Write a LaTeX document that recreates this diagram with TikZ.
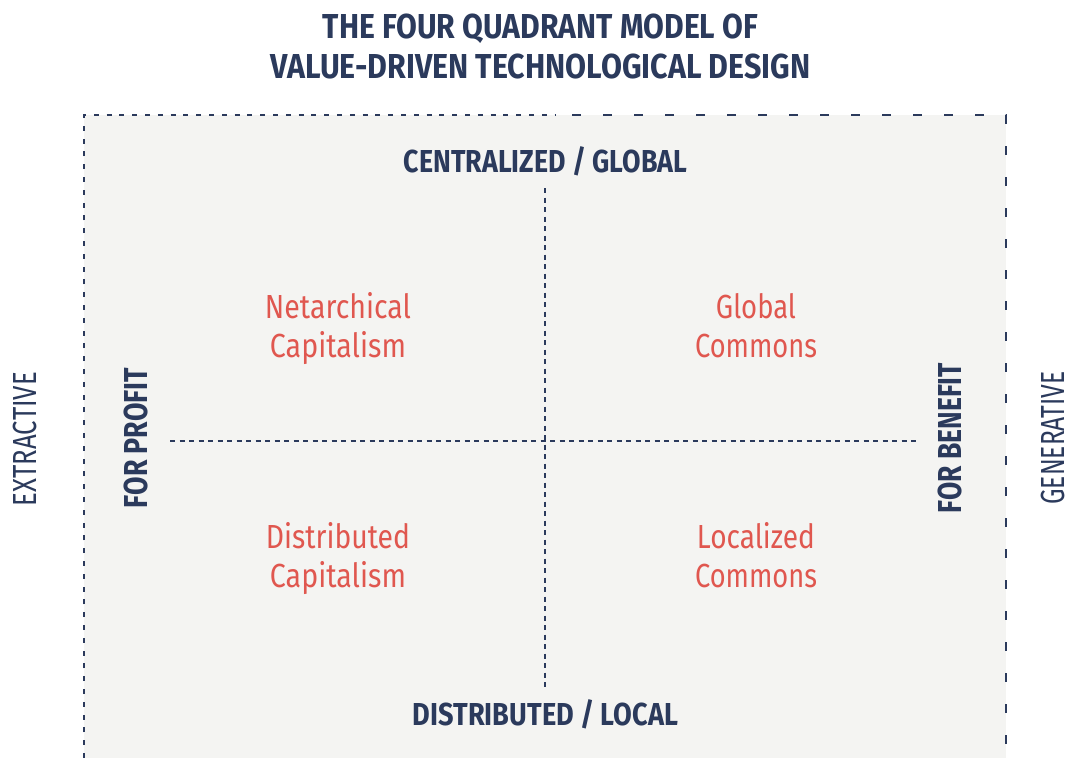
\documentclass[tikz,border=0pt]{standalone}
\usepackage{fontspec}
\setmainfont{Fira Sans}
\usepackage{graphicx}
\definecolor{navy}{HTML}{2B3A5C}
\definecolor{redq}{HTML}{E0574F}
\definecolor{panel}{HTML}{F4F4F2}
\newcommand{\fitto}[3]{\resizebox{#1}{#2}{\raisebox{0pt}[\fontcharht\font`H][0pt]{#3}}}
\begin{document}
\begin{tikzpicture}[x=1pt,y=-1pt,
  titlestyle/.style={text=navy, inner sep=0pt, align=center, font=\fontsize{10pt}{40pt}\selectfont\bfseries},
  axislabel/.style={text=navy, inner sep=0pt, font=\bfseries},
  sidebold/.style={text=navy, inner sep=0pt, rotate=90, font=\bfseries},
  sidelight/.style={text=navy, inner sep=0pt, rotate=90, font=\normalfont},
  quad/.style={text=redq, inner sep=0pt, align=center, font=\fontsize{10pt}{39pt}\selectfont},
  divider/.style={draw=navy, line width=1.3pt, dash pattern=on 5pt off 4.5pt},
  finedash/.style={draw=navy, line width=1.9pt, dash pattern=on 5pt off 7.8pt},
  coarsedash/.style={draw=navy, line width=2pt, dash pattern=on 9pt off 22pt, dash phase=15pt}]
\useasboundingbox (0,0) rectangle (1077,758);
% panel
\fill[panel] (84,115) rectangle (1006,758);
\coordinate (bl) at (84,758);
\coordinate (tl) at (84,115);
\coordinate (tm) at (556,115);
\coordinate (tr) at (1006,115);
\coordinate (br) at (1006,758);
\draw[finedash] (bl) -- (tl) -- (tm);
\draw[coarsedash] (tm) -- (tr) -- (br);
% dividers
\coordinate (hl) at (170,441);
\coordinate (hr) at (920,441);
\coordinate (vt) at (545,188);
\coordinate (vb) at (545,688);
\draw[divider] (hl) -- (hr);
\draw[divider] (vt) -- (vb);
% title
\node[titlestyle] (title) at (540.5,46) {\fitto{435pt}{24pt}{THE FOUR QUADRANT MODEL OF}\\\fitto{540pt}{24pt}{VALUE-DRIVEN TECHNOLOGICAL DESIGN}};
% axis labels
\node[axislabel] (top) at (545.5,161) {\fitto{283pt}{22pt}{CENTRALIZED / GLOBAL}};
\node[axislabel] (bottom) at (545.5,714) {\fitto{265pt}{22pt}{DISTRIBUTED / LOCAL}};
\node[sidebold] (profit) at (136,438) {\fitto{140pt}{23pt}{FOR PROFIT}};
\node[sidebold] (benefit) at (950,438) {\fitto{150pt}{23pt}{FOR BENEFIT}};
\node[sidelight] (extractive) at (25,439) {\fitto{134pt}{23pt}{EXTRACTIVE}};
\node[sidelight] (generative) at (1053,438) {\fitto{133pt}{23pt}{GENERATIVE}};
% quadrants
\node[quad] (netcap) at (338,326) {\fitto{146pt}{23pt}{Netarchical}\\\fitto{136pt}{23pt}{Capitalism}};
\node[quad] (globcom) at (756,326) {\fitto{80pt}{23pt}{Global}\\\fitto{122pt}{23pt}{Commons}};
\node[quad] (distcap) at (338,556) {\fitto{144pt}{23pt}{Distributed}\\\fitto{136pt}{23pt}{Capitalism}};
\node[quad] (loccom) at (756,556) {\fitto{118pt}{23pt}{Localized}\\\fitto{122pt}{23pt}{Commons}};
\end{tikzpicture}
\end{document}
